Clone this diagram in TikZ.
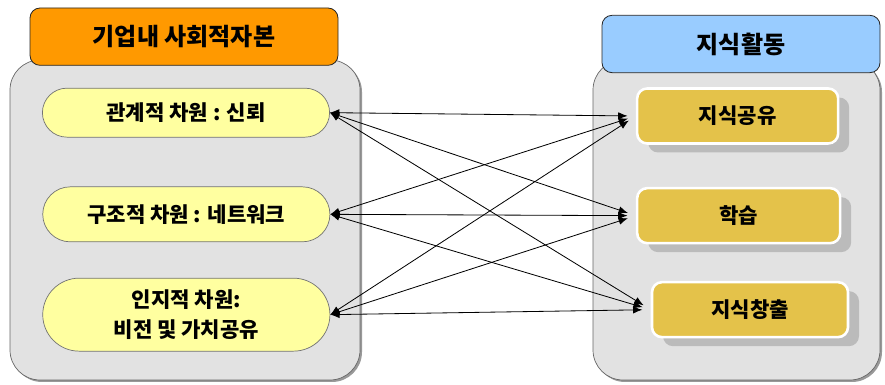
\documentclass[tikz,border=0pt]{standalone}
\usepackage{fontspec}
\setmainfont{Noto Sans CJK KR}
\usetikzlibrary{arrows.meta,shapes.misc,shadows}
\definecolor{headorange}{RGB}{255,153,0}
\definecolor{headblue}{RGB}{153,204,255}
\definecolor{panelgray}{RGB}{226,226,226}
\definecolor{capyellow}{RGB}{255,255,160}
\definecolor{actgold}{RGB}{228,194,74}

\begin{document}
\begin{tikzpicture}[
	panel/.style={draw=gray!80!black, fill=panelgray, rounded corners=0.9cm, line width=0.6pt,
		drop shadow={shadow xshift=0.06cm, shadow yshift=-0.06cm, fill=gray!80, opacity=1}},
	header/.style={draw=black!85, line width=0.7pt, rounded corners=0.3cm, minimum height=1.72cm,
		font=\fontsize{20.5}{24}\selectfont\bfseries},
	capital/.style={rounded rectangle, draw=black!55, fill=capyellow, line width=0.6pt,
		minimum width=8.85cm, align=center, font=\fontsize{18}{25}\selectfont\bfseries},
	activity/.style={draw=white, line width=2.2pt, fill=actgold, rounded corners=0.3cm,
		minimum height=1.65cm, font=\fontsize{18}{20}\selectfont\bfseries,
		drop shadow={shadow xshift=0.33cm, shadow yshift=-0.27cm, fill=gray!60, opacity=0.8}},
	link/.style={{Latex[length=2.8mm,width=2.2mm]}-{Latex[length=2.8mm,width=2.2mm]}, line width=0.7pt, shorten >=0.25cm}
]
	\useasboundingbox (0, 0) rectangle (26.55, 11.55);
	\draw[panel] (0.3, 0.15) rectangle (10.8, 9.75);
	\draw[panel] (17.79, 0.15) rectangle (26.4, 9.75);
	\node[header, fill=headorange, minimum width=9.24cm] at (5.52, 10.45) (capitalhead) {기업내 사회적자본};
	\node[header, fill=headblue, minimum width=8.34cm] at (22.23, 10.23) (activityhead) {지식활동};
	\node[capital, minimum height=1.47cm] at (5.58, 8.17) (trust) {관계적 차원 : 신뢰};
	\node[capital, minimum height=1.65cm] at (5.59, 5.12) (network) {구조적 차원 : 네트워크};
	\node[capital, minimum height=2.19cm] at (5.59, 2.11) (vision) {인지적 차원:\\비전 및 가치공유};
	\node[activity, minimum width=6.03cm] at (22.13, 8.07) (sharing) {지식공유};
	\node[activity, minimum width=6.09cm] at (22.16, 5.08) (learning) {학습};
	\node[activity, minimum width=5.88cm] at (22.5, 2.26) (creation) {지식창출};
	\draw[link] (trust.east) -- (sharing.west);
	\draw[link] (trust.east) -- (learning.west);
	\draw[link] (trust.east) -- (creation.west);
	\draw[link] (network.east) -- (sharing.west);
	\draw[link] (network.east) -- (learning.west);
	\draw[link] (network.east) -- (creation.west);
	\draw[link] (vision.east) -- (sharing.west);
	\draw[link] (vision.east) -- (learning.west);
	\draw[link] (vision.east) -- (creation.west);
\end{tikzpicture}
\end{document}
